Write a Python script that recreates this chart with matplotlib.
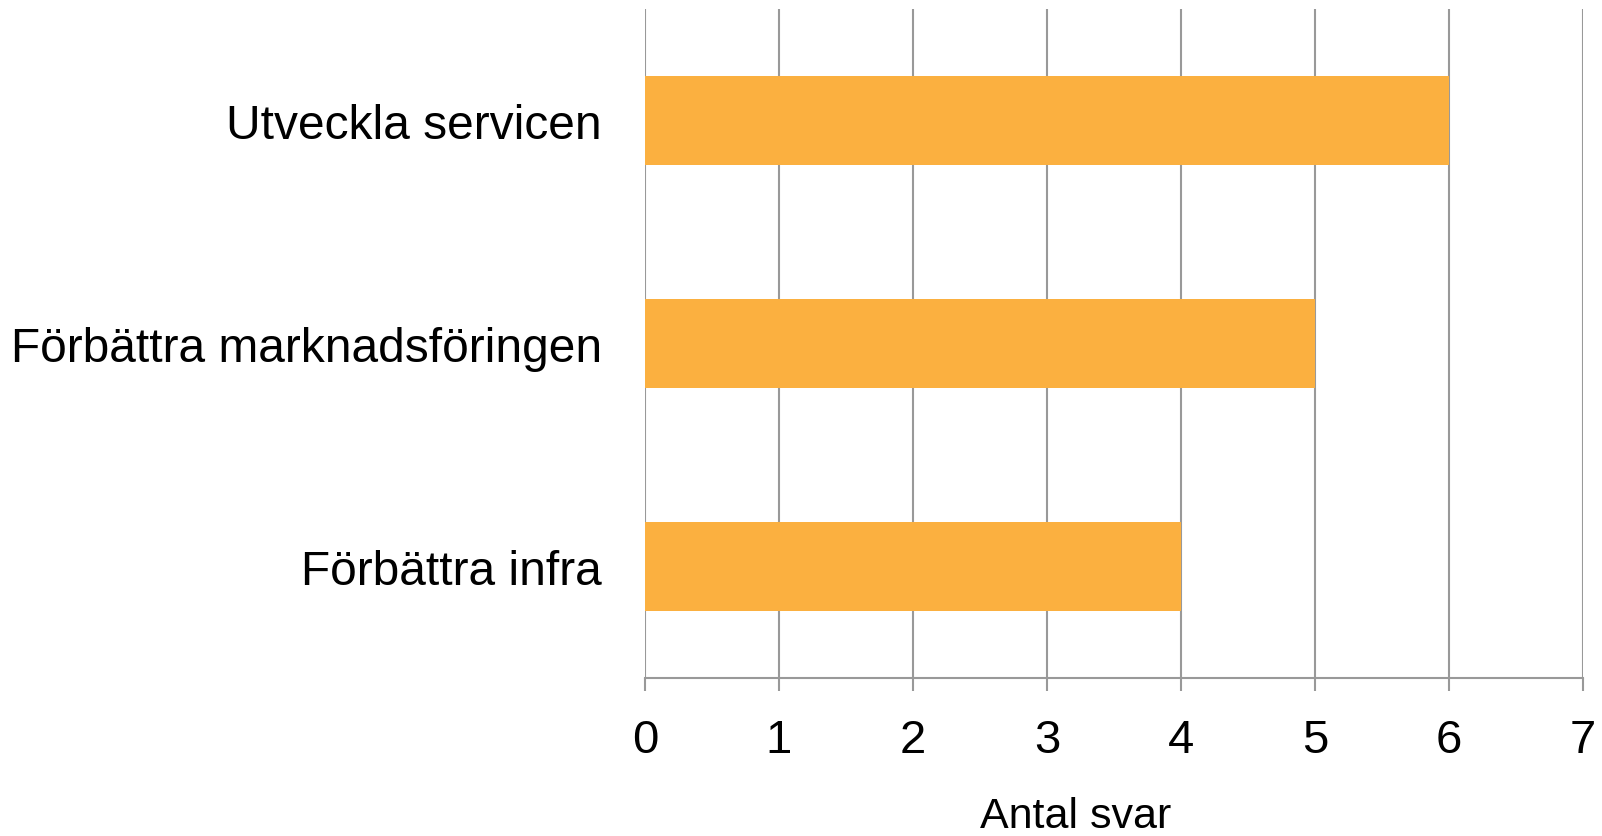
import matplotlib.pyplot as plt

categories = ["Förbättra infra", "Förbättra marknadsföringen", "Utveckla servicen"]
values = [4, 5, 6]
xticks = [0, 1, 2, 3, 4, 5, 6, 7]

plt.rcParams['font.family'] = ['Liberation Sans', 'DejaVu Sans']


def main():
    fig = plt.figure(figsize=(16.02, 8.37), dpi=100)
    ax = fig.add_axes([0.4026, 0.1888, 0.5855, 0.7992])

    ax.barh(range(len(categories)), values, height=0.4, color='#FBB040', zorder=2)
    ax.set_ylim(-0.5, len(categories) - 0.5)
    ax.set_xlim(0, 7)
    ax.set_yticks(range(len(categories)))
    ax.set_yticklabels(categories, fontsize=34.5)
    ax.set_xticks(xticks)
    ax.set_xticklabels([str(t) for t in xticks], fontsize=34)

    ax.grid(axis='x', color='#999999', linewidth=1.5, zorder=0)
    for s in ['top', 'right', 'left']:
        ax.spines[s].set_visible(False)
    ax.spines['bottom'].set_color('#999999')
    ax.spines['bottom'].set_linewidth(1.5)
    ax.tick_params(axis='y', length=0, pad=31)
    ax.tick_params(axis='x', length=9.5, width=1.5, color='#999999', pad=19)

    ax.set_xlabel("Antal svar", fontsize=31)
    ax.xaxis.set_label_coords((1076 - 645) / 938, -0.177)

    plt.savefig('out.png')
    plt.close('all')


if __name__ == '__main__':
    main()
